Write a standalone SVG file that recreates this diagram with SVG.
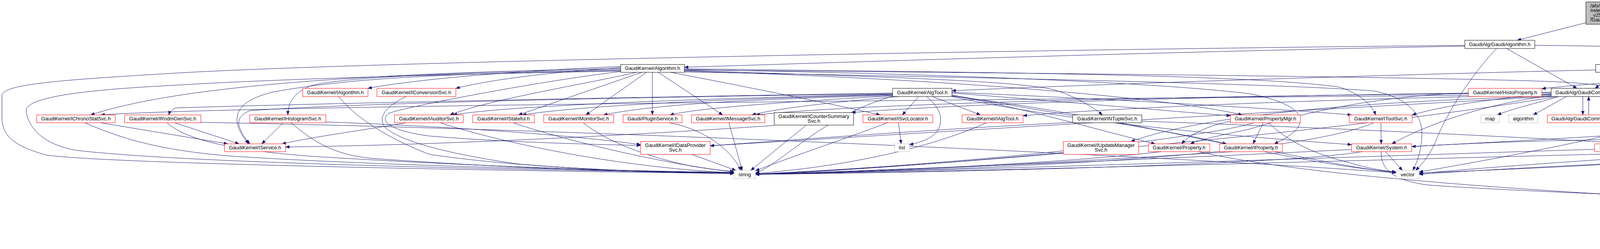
<svg xmlns="http://www.w3.org/2000/svg" width="5314" height="637" viewBox="0 0 5314 637">
<style>
rect.r{fill:#fff;stroke:#ff0000;stroke-width:1}
rect.b{fill:#fff;stroke:#000;stroke-width:1}
rect.g{fill:#fff;stroke:#bfbfbf;stroke-width:1}
rect.root{fill:#bfbfbf;stroke:#000;stroke-width:1}
text{font-family:"Liberation Sans",Arial,Helvetica,sans-serif;font-size:13px;fill:#000}
text.c{text-anchor:middle}
#edges path{fill:none;stroke:#191970;stroke-width:1;marker-end:url(#ah)}
</style>
<defs>
<marker id="ah" viewBox="0 0 10 8" refX="10" refY="4" markerWidth="10" markerHeight="8" markerUnits="userSpaceOnUse" orient="auto"><path d="M0,0 L10,4 L0,8 z" fill="#191970" stroke="#191970" stroke-width="0.5"/></marker>
</defs>
<rect width="5314" height="637" fill="#fff"/>
<g id="edges">
<path d="M4060,58 L3884,103"/>
<path d="M4160,62 L4160,165"/>
<path d="M4259,50 C4550,95 4900,140 5036,165"/>
<path d="M3750,118 C3000,132 2300,155 1752,172"/>
<path d="M3750,116 C2800,125 1000,155 450,187 C150,205 5,215 5,245 L5,300 C5,350 40,375 120,397 C300,420 1300,437 1879,444"/>
<path d="M3857,124 L4037,226"/>
<path d="M3831,124 C3760,200 3705,290 3680,350 C3665,390 3645,415 3624,436"/>
<path d="M3929,116 C4400,121 4900,135 5183,162 C5280,190 5320,240 5300,280 C5260,330 5150,350 4921,375"/>
<path d="M4085,179 C3600,190 2900,212 2437,232"/>
<path d="M4143,185 L4083,226"/>
<path d="M4235,180 C4500,195 4900,225 5173,283 L5270,331 C5150,327 4850,340 4670,368"/>
<path d="M4235,184 C4550,205 4950,235 5150,290 C5200,305 5180,330 5100,340 C4800,365 4000,410 3633,444"/>
<path d="M5100,185 L5100,226"/>
<path d="M5123,185 L5236,226"/>
<path d="M5123,185 C5200,220 5215,300 5170,322 C5080,345 4800,355 4670,369"/>
<path d="M5019,178 C4700,183 4200,198 3947,227"/>
<path d="M1589,170 C1300,182 1050,205 942,226"/>
<path d="M1589,173 C1400,185 1250,205 1167,226"/>
<path d="M1589,175 C900,188 450,222 232,294"/>
<path d="M1589,178 C1200,185 900,195 800,218 C755,235 737,260 737,294"/>
<path d="M1589,180 C1100,190 900,200 700,235 C640,250 610,270 607,300 C604,330 625,352 636,368"/>
<path d="M1589,182 C1000,192 600,208 450,218 C250,228 60,245 67,285 C75,340 130,375 200,385 C500,420 1400,435 1879,443"/>
<path d="M1629,185 C1500,215 1250,255 1152,294"/>
<path d="M1643,185 L1327,294"/>
<path d="M1655,185 L1500,294"/>
<path d="M1670,185 L1670,294"/>
<path d="M1685,185 L1850,294"/>
<path d="M1717,185 C1900,220 2150,270 2253,294"/>
<path d="M1752,180 C2200,195 2600,205 2700,230 C2760,250 2800,275 2822,294"/>
<path d="M1589,183 C1400,205 1050,270 995,290 C970,310 1000,335 1100,348 C1300,365 1550,370 1640,372"/>
<path d="M1752,182 C2400,200 3000,250 3180,294"/>
<path d="M1752,178 C2500,190 3000,215 3200,240 C3300,260 3350,290 3320,330 C3300,350 3280,360 3262,368"/>
<path d="M1752,176 C2500,185 3200,190 3430,223 C3480,240 3510,265 3522,294"/>
<path d="M1752,184 C2600,200 3300,215 3520,233 C3600,250 3640,290 3640,340 C3640,380 3630,410 3617,436"/>
<path d="M1752,179 C3000,190 3800,200 4000,210 C4150,218 4300,250 4353,294"/>
<path d="M2285,238 C1800,246 900,262 450,276 C440,280 435,285 432,294"/>
<path d="M2285,240 C1500,250 900,265 640,283 C615,292 605,310 615,330 C622,348 632,360 640,368"/>
<path d="M2285,241 C1800,252 1300,270 1160,294"/>
<path d="M2285,242 C1900,252 1500,268 1337,294"/>
<path d="M2285,244 C2000,252 1700,262 1545,294"/>
<path d="M2285,245 C2100,256 1800,273 1715,294"/>
<path d="M2300,247 C2150,260 2000,275 1925,294"/>
<path d="M2352,247 L2310,294"/>
<path d="M2372,247 C2400,270 2420,300 2400,335 C2385,355 2355,365 2328,370"/>
<path d="M2387,247 L2510,294"/>
<path d="M2437,245 C2600,270 2800,330 2957,368"/>
<path d="M2437,238 C2700,258 3000,285 3150,296"/>
<path d="M2437,243 C2700,290 3000,335 3140,368"/>
<path d="M2437,236 C2800,252 3200,273 3460,294"/>
<path d="M2437,247 C2700,305 3100,345 3460,370"/>
<path d="M2437,246 C2900,300 3300,420 3574,440"/>
<path d="M2285,246 C2100,300 2000,420 1934,443"/>
<path d="M4052,247 L4052,294"/>
<path d="M4067,294 L4067,247"/>
<path d="M4140,247 C4200,265 4230,300 4215,330 C4205,345 4190,355 4180,368"/>
<path d="M4148,247 L4333,294"/>
<path d="M4148,232 L4417,230"/>
<path d="M4148,240 C4300,255 4450,270 4540,294"/>
<path d="M4148,236 C4400,245 4650,265 4765,294"/>
<path d="M4148,238 C4500,250 4900,270 5017,294"/>
<path d="M4148,244 C4500,258 4800,268 4930,285 C4960,300 4965,360 4930,400 C4900,430 4860,437 4834,440"/>
<path d="M3971,240 C3800,255 3700,270 3615,294"/>
<path d="M3971,245 C3800,265 3650,320 3563,368"/>
<path d="M3990,247 C3950,260 3880,275 3833,294"/>
<path d="M4010,247 L3925,294"/>
<path d="M3971,236 C3000,245 2400,270 2180,288"/>
<path d="M3971,238 C3000,245 2200,265 1935,294"/>
<path d="M3971,242 C2500,255 600,270 258,294"/>
<path d="M3971,243 C3300,255 2800,280 2619,296"/>
<path d="M3971,246 C3500,260 3100,290 2895,362"/>
<path d="M3971,247 C3000,300 2200,350 1818,373"/>
<path d="M4103,247 C4190,290 4200,320 4140,340 C4000,375 3750,420 3633,440"/>
<path d="M3985,247 C3500,330 2500,420 1934,446"/>
<path d="M257,314 L583,368"/>
<path d="M217,314 C300,350 400,385 600,400 C1000,425 1500,435 1879,441"/>
<path d="M447,314 L612,368"/>
<path d="M427,314 C480,360 600,385 800,400 C1200,425 1600,438 1879,442"/>
<path d="M514,313 C1500,330 3000,400 3574,442"/>
<path d="M725,314 L670,368"/>
<path d="M834,312 C1200,325 1500,350 1640,370"/>
<path d="M745,314 C800,360 850,395 950,405 C1300,430 1600,440 1879,444"/>
<path d="M867,247 C900,290 980,350 1100,395 C1300,425 1600,440 1879,444"/>
<path d="M1040,247 C990,270 965,300 985,325 C1020,360 1150,395 1330,420 C1550,438 1750,441 1879,443"/>
<path d="M1040,314 C950,330 800,350 722,368"/>
<path d="M1127,314 C1300,370 1600,430 1879,442"/>
<path d="M1313,314 C1450,360 1700,420 1879,440"/>
<path d="M1493,314 C1550,360 1650,400 1770,425 C1820,433 1850,436 1879,439"/>
<path d="M1713,314 C1800,330 1870,380 1897,436"/>
<path d="M1866,314 L1900,436"/>
<path d="M2064,320 L1922,436"/>
<path d="M1982,321 C1700,340 1200,370 731,376"/>
<path d="M1771,395 L1884,436"/>
<path d="M2272,314 C2150,360 2000,410 1934,437"/>
<path d="M2300,314 L2307,368"/>
<path d="M2525,314 C2400,370 2200,423 1934,444"/>
<path d="M2746,313 C2400,330 2000,360 1818,373"/>
<path d="M2923,310 C3500,330 4300,370 4400,385 C4460,400 4500,420 4520,436"/>
<path d="M2722,390 C2400,420 2100,440 1934,446"/>
<path d="M2973,388 C2700,420 2200,440 1934,446"/>
<path d="M3068,388 C3300,440 3700,470 4000,490 C4150,500 4250,503 4315,503"/>
<path d="M3150,310 C3100,320 3050,340 3025,368"/>
<path d="M3234,314 L3208,368"/>
<path d="M3210,314 C3100,350 2500,420 1934,445"/>
<path d="M3248,314 C3290,355 3350,390 3450,415 C3500,430 3540,437 3574,440"/>
<path d="M3157,388 C2800,410 2300,440 1934,446"/>
<path d="M3262,388 C3400,415 3500,435 3574,441"/>
<path d="M3759,238 C3500,245 3300,300 3200,330 C3130,345 3080,355 3047,368"/>
<path d="M3535,314 L3536,368"/>
<path d="M3517,314 C3400,365 3000,425 1934,446"/>
<path d="M3547,388 L3590,436"/>
<path d="M3536,388 C3535,430 3560,460 3653,473 C3800,485 4200,500 4315,506"/>
<path d="M3487,388 C3300,420 2500,440 1934,446"/>
<path d="M4563,314 C4500,340 4300,355 3970,360 C3800,365 3700,370 3614,375"/>
<path d="M4548,314 C4300,345 3000,410 1934,446"/>
<path d="M4590,314 C4500,360 4430,420 4400,497"/>
<path d="M4623,314 C4680,350 4720,400 4740,436"/>
<path d="M4528,247 L4588,294"/>
<path d="M4375,314 C4340,360 4280,400 4240,410 C4100,425 3800,435 3633,443"/>
<path d="M4828,314 L4832,368"/>
<path d="M4183,388 L4370,497"/>
<path d="M4082,382 C3500,400 2500,435 1934,446"/>
<path d="M4568,388 C4500,420 4440,460 4412,497"/>
<path d="M4527,384 C4000,395 2500,440 1934,446"/>
<path d="M4790,388 L4598,436"/>
<path d="M4853,388 L4762,436"/>
<path d="M4918,388 C4935,430 4920,470 4827,497"/>
<path d="M4760,388 C4600,400 4000,420 3633,446"/>
<path d="M4528,457 L4422,497"/>
<path d="M4688,457 L4448,497"/>
<path d="M4755,457 L4790,497"/>
<path d="M5096,247 L5083,294"/>
</g>
<g id="n0"><rect class="root" x="4060" y="5" width="199" height="57"/><text x="4071" y="19">/afs/cern.ch/sw/Gaudi</text><text x="4071" y="31">/releases/GAUDI/GAUDI</text><text x="4071" y="43">_v25r1/GaudiAlg/src/lib</text><text x="4071" y="55">/GaudiHistosConstructors.cpp</text></g>
<g id="n1"><rect class="b" x="3750" y="103" width="179" height="21"/><text class="c" x="3839.5" y="117.5">GaudiAlg/GaudiAlgorithm.h</text></g>
<g id="n2"><rect class="b" x="4085" y="165" width="150" height="20"/><text class="c" x="4160" y="179">GaudiAlg/GaudiTool.h</text></g>
<g id="n3"><rect class="b" x="5019" y="165" width="162" height="20"/><text class="c" x="5100" y="179">GaudiAlg/GaudiHistos.h</text></g>
<g id="n4"><rect class="b" x="1589" y="165" width="163" height="20"/><text class="c" x="1670.5" y="179">GaudiKernel/Algorithm.h</text></g>
<g id="n5"><rect class="r" x="775" y="226" width="167" height="21"/><text class="c" x="858.5" y="240.5">GaudiKernel/IAlgorithm.h</text></g>
<g id="n6"><rect class="r" x="965" y="226" width="202" height="21"/><text class="c" x="1066" y="240.5">GaudiKernel/IConversionSvc.h</text></g>
<g id="n7"><rect class="b" x="2285" y="226" width="152" height="21"/><text class="c" x="2361" y="240.5">GaudiKernel/AlgTool.h</text></g>
<g id="n8"><rect class="r" x="3759" y="226" width="188" height="21"/><text class="c" x="3853" y="240.5">GaudiKernel/HistoProperty.h</text></g>
<g id="n9"><rect class="b" x="3971" y="226" width="177" height="21"/><text class="c" x="4059.5" y="240.5">GaudiAlg/GaudiCommon.h</text></g>
<g id="n10"><rect class="r" x="4417" y="226" width="194" height="21"/><text class="c" x="4514" y="240.5">GaudiKernel/IExceptionSvc.h</text></g>
<g id="n11"><rect class="r" x="5038" y="226" width="123" height="21"/><text class="c" x="5099.5" y="240.5">GaudiAlg/Maps.h</text></g>
<g id="n12"><rect class="g" x="5236" y="226" width="53" height="21"/><text class="c" x="5262.5" y="240.5">limits</text></g>
<g id="n13"><rect class="r" x="94" y="294" width="201" height="20"/><text class="c" x="194.5" y="308">GaudiKernel/IChronoStatSvc.h</text></g>
<g id="n14"><rect class="r" x="319" y="294" width="195" height="20"/><text class="c" x="416.5" y="308">GaudiKernel/IRndmGenSvc.h</text></g>
<g id="n15"><rect class="r" x="639" y="294" width="195" height="20"/><text class="c" x="736.5" y="308">GaudiKernel/IHistogramSvc.h</text></g>
<g id="n16"><rect class="r" x="1010" y="294" width="176" height="20"/><text class="c" x="1098" y="308">GaudiKernel/IAuditorSvc.h</text></g>
<g id="n17"><rect class="r" x="1210" y="294" width="158" height="20"/><text class="c" x="1289" y="308">GaudiKernel/IStateful.h</text></g>
<g id="n18"><rect class="r" x="1392" y="294" width="179" height="20"/><text class="c" x="1481.5" y="308">GaudiKernel/IMonitorSvc.h</text></g>
<g id="n19"><rect class="r" x="1595" y="294" width="151" height="20"/><text class="c" x="1670.5" y="308">Gaudi/PluginService.h</text></g>
<g id="n20"><rect class="r" x="1770" y="294" width="188" height="20"/><text class="c" x="1864" y="308">GaudiKernel/IMessageSvc.h</text></g>
<g id="n21"><rect class="b" x="1982" y="288" width="203" height="32"/><text class="c" x="2083.5" y="301.5">GaudiKernel/ICounterSummary</text><text class="c" x="2083.5" y="313.5">Svc.h</text></g>
<g id="n22"><rect class="r" x="2209" y="294" width="179" height="20"/><text class="c" x="2298.5" y="308">GaudiKernel/ISvcLocator.h</text></g>
<g id="n23"><rect class="r" x="2463" y="294" width="156" height="20"/><text class="c" x="2541" y="308">GaudiKernel/IAlgTool.h</text></g>
<g id="n24"><rect class="b" x="2746" y="294" width="177" height="20"/><text class="c" x="2834.5" y="308">GaudiKernel/INTupleSvc.h</text></g>
<g id="n25"><rect class="r" x="3150" y="294" width="179" height="20"/><text class="c" x="3239.5" y="308">GaudiKernel/PropertyMgr.h</text></g>
<g id="n26"><rect class="r" x="3454" y="294" width="161" height="20"/><text class="c" x="3534.5" y="308">GaudiKernel/IToolSvc.h</text></g>
<g id="n27"><rect class="g" x="3791" y="294" width="47" height="20"/><text class="c" x="3814.5" y="308">map</text></g>
<g id="n28"><rect class="g" x="3862" y="294" width="75" height="20"/><text class="c" x="3899.5" y="308">algorithm</text></g>
<g id="n29"><rect class="r" x="3961" y="294" width="198" height="20"/><text class="c" x="4060" y="308">GaudiAlg/GaudiCommonImp.h</text></g>
<g id="n30"><rect class="r" x="4284" y="294" width="200" height="20"/><text class="c" x="4384" y="308">GaudiKernel/IAlgContextSvc.h</text></g>
<g id="n31"><rect class="r" x="4508" y="294" width="200" height="20"/><text class="c" x="4608" y="308">GaudiKernel/GaudiException.h</text></g>
<g id="n32"><rect class="r" x="4733" y="294" width="188" height="20"/><text class="c" x="4827" y="308">GaudiKernel/SmartDataPtr.h</text></g>
<g id="n33"><rect class="r" x="4997" y="294" width="164" height="20"/><text class="c" x="5079" y="308">GaudiKernel/HashMap.h</text></g>
<g id="n34"><rect class="r" x="575" y="368" width="156" height="20"/><text class="c" x="653" y="382">GaudiKernel/IService.h</text></g>
<g id="n35"><rect class="r" x="1640" y="362" width="178" height="33"/><text class="c" x="1729" y="375.5">GaudiKernel/IDataProvider</text><text class="c" x="1729" y="387.5">Svc.h</text></g>
<g id="n36"><rect class="g" x="2290" y="368" width="38" height="20"/><text class="c" x="2309" y="382">list</text></g>
<g id="n37"><rect class="r" x="2722" y="362" width="193" height="33"/><text class="c" x="2818.5" y="375.5">GaudiKernel/IUpdateManager</text><text class="c" x="2818.5" y="387.5">Svc.h</text></g>
<g id="n38"><rect class="r" x="2940" y="368" width="157" height="20"/><text class="c" x="3018.5" y="382">GaudiKernel/Property.h</text></g>
<g id="n39"><rect class="r" x="3122" y="368" width="161" height="20"/><text class="c" x="3202.5" y="382">GaudiKernel/IProperty.h</text></g>
<g id="n40"><rect class="r" x="3460" y="368" width="154" height="20"/><text class="c" x="3537" y="382">GaudiKernel/System.h</text></g>
<g id="n41"><rect class="r" x="4082" y="368" width="167" height="20"/><text class="c" x="4165.5" y="382">GaudiKernel/StatEntity.h</text></g>
<g id="n42"><rect class="b" x="4527" y="368" width="143" height="20"/><text class="c" x="4598.5" y="382">GaudiAlg/GaudiAlg.h</text></g>
<g id="n43"><rect class="b" x="4746" y="368" width="175" height="20"/><text class="c" x="4833.5" y="382">GaudiKernel/DataObject.h</text></g>
<g id="n44"><rect class="g" x="1879" y="436" width="55" height="21"/><text class="c" x="1906.5" y="450.5">string</text></g>
<g id="n45"><rect class="g" x="3574" y="436" width="59" height="21"/><text class="c" x="3603.5" y="450.5">vector</text></g>
<g id="n46"><rect class="b" x="4477" y="436" width="156" height="21"/><text class="c" x="4555" y="450.5">GaudiKernel/ClassID.h</text></g>
<g id="n47"><rect class="r" x="4656" y="436" width="178" height="21"/><text class="c" x="4745" y="450.5">GaudiKernel/StatusCode.h</text></g>
<g id="n48"><rect class="b" x="4315" y="497" width="145" height="21"/><text class="c" x="4387.5" y="511.5">GaudiKernel/Kernel.h</text></g>
<g id="n49"><rect class="g" x="4773" y="497" width="70" height="21"/><text class="c" x="4808" y="511.5">ostream</text></g>
</svg>
